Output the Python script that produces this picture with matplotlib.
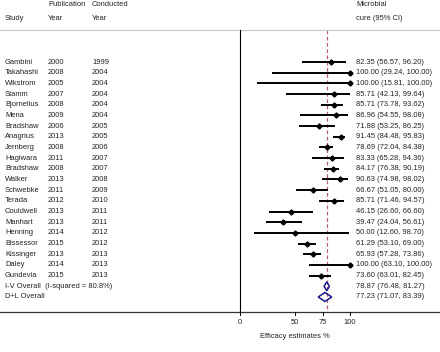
import matplotlib
matplotlib.use("Agg")
import matplotlib.pyplot as plt
from matplotlib.patches import Polygon

plt.rcParams['font.family'] = ['Liberation Sans', 'DejaVu Sans']

studies = ["Gambini", "Takahashi", "Wikstrom", "Stamm", "Bjornelius", "Mena", "Bradshaw",
           "Anagrius", "Jernberg", "Hagiwara", "Bradshaw", "Walker", "Schwebke", "Terada",
           "Couldwell", "Manhart", "Henning", "Bissessor", "Kissinger", "Daley", "Gundevia"]
pub_year = ["2000", "2008", "2005", "2007", "2008", "2009", "2006", "2013", "2008", "2011",
            "2008", "2013", "2011", "2012", "2013", "2013", "2014", "2015", "2013", "2014", "2015"]
cond_year = ["1999", "2004", "2004", "2004", "2004", "2004", "2005", "2005", "2006", "2007",
             "2007", "2008", "2009", "2010", "2011", "2011", "2012", "2012", "2013", "2013", "2013"]
est = [82.35, 100.00, 100.00, 85.71, 85.71, 86.96, 71.88, 91.45, 78.69, 83.33, 84.17,
       90.63, 66.67, 85.71, 46.15, 39.47, 50.00, 61.29, 65.93, 100.00, 73.60]
lo = [56.57, 29.24, 15.81, 42.13, 73.78, 54.55, 53.25, 84.48, 72.04, 65.28, 76.38,
      74.98, 51.05, 71.46, 26.60, 24.04, 12.60, 53.10, 57.28, 63.10, 63.01]
hi = [96.20, 100.00, 100.00, 99.64, 93.62, 98.08, 86.25, 95.83, 84.38, 94.36, 90.19,
      98.02, 80.00, 94.57, 66.60, 56.61, 98.70, 69.00, 73.86, 100.00, 82.45]
overall_labels = ["I-V Overall  (I-squared = 80.8%)", "D+L Overall"]
overall_est = [78.87, 77.23]
overall_lo = [76.48, 71.07]
overall_hi = [81.27, 83.39]
xticks = [0, 50, 75, 100]
xlabel = "Efficacy estimates %"

W, H = 440, 352
fig = plt.figure(figsize=(W / 100, H / 100), dpi=100)
ax = fig.add_axes([0, 0, 1, 1])
ax.axis('off')
# pixel mapping: x=0 at px 240, 1.1 px per unit; row i at px 62 + 10.68*i
x0px, sx = 240.0, 1.1
y0px, sy = 62.0, 10.68
ax.set_xlim(-x0px / sx, (W - x0px) / sx)
ax.set_ylim((H - y0px) / sy, -y0px / sy)

def ry(px):
    return (px - y0px) / sy

def rx(px):
    return (px - x0px) / sx

fs = 5.4
tc = '#222222'
# headers
ax.text(rx(5), ry(18), "Study", fontsize=fs, va='center', ha='left', color=tc)
ax.text(rx(48), ry(5), "Publication", fontsize=fs, va='center', ha='left', color=tc)
ax.text(rx(48), ry(18), "Year", fontsize=fs, va='center', ha='left', color=tc)
ax.text(rx(92), ry(5), "Conducted", fontsize=fs, va='center', ha='left', color=tc)
ax.text(rx(92), ry(18), "Year", fontsize=fs, va='center', ha='left', color=tc)
ax.text(rx(356), ry(5), "Microbial", fontsize=fs, va='center', ha='left', color=tc)
ax.text(rx(356), ry(18), "cure (95% CI)", fontsize=fs, va='center', ha='left', color=tc)

top_line = ry(30)
bottom_line = ry(312)
ax.plot([rx(0), rx(440)], [top_line, top_line], color='#c8c8c8', lw=0.8)

# reference dashed line at I-V overall
ax.plot([overall_est[0], overall_est[0]], [top_line, bottom_line], color='#b5606a',
        lw=0.9, ls=(0, (3, 2)), zorder=1)

# vertical axis at 0
ax.plot([0, 0], [top_line, bottom_line], color='black', lw=0.8)
# bottom axis line
ax.plot([rx(0), rx(440)], [bottom_line, bottom_line], color='#333333', lw=0.9)
for t in xticks:
    ax.plot([t, t], [bottom_line, bottom_line + 0.3], color='black', lw=0.7)
    ax.text(t, ry(322), str(t), fontsize=fs, ha='center', va='center', color=tc)
ax.text(50, ry(336), xlabel, fontsize=fs, ha='center', va='center', color=tc)

for i, s in enumerate(studies):
    ax.text(rx(5), i, s, fontsize=fs, va='center', ha='left', color=tc)
    ax.text(rx(48), i, pub_year[i], fontsize=fs, va='center', ha='left', color=tc)
    ax.text(rx(92), i, cond_year[i], fontsize=fs, va='center', ha='left', color=tc)
    ax.plot([lo[i], hi[i]], [i, i], color='black', lw=1.4, solid_capstyle='butt', zorder=3)
    ax.plot([est[i]], [i], marker='D', color='black', ms=2.6, zorder=4)
    ax.text(rx(356), i, f"{est[i]:.2f} ({lo[i]:.2f}, {hi[i]:.2f})", fontsize=fs,
            va='center', ha='left', color=tc)

n = len(studies)
for j, lab in enumerate(overall_labels):
    yy = n + j
    ax.text(rx(5), yy, lab, fontsize=fs, va='center', ha='left', color=tc)
    e, l, h = overall_est[j], overall_lo[j], overall_hi[j]
    dh = 0.42
    poly = Polygon([[l, yy], [e, yy - dh], [h, yy], [e, yy + dh]], closed=True,
                   fill=False, edgecolor='#1a1a8c', lw=1.1, zorder=4)
    ax.add_patch(poly)
    ax.text(rx(356), yy, f"{e:.2f} ({l:.2f}, {h:.2f})", fontsize=fs,
            va='center', ha='left', color=tc)

fig.savefig("out.png", dpi=100)
